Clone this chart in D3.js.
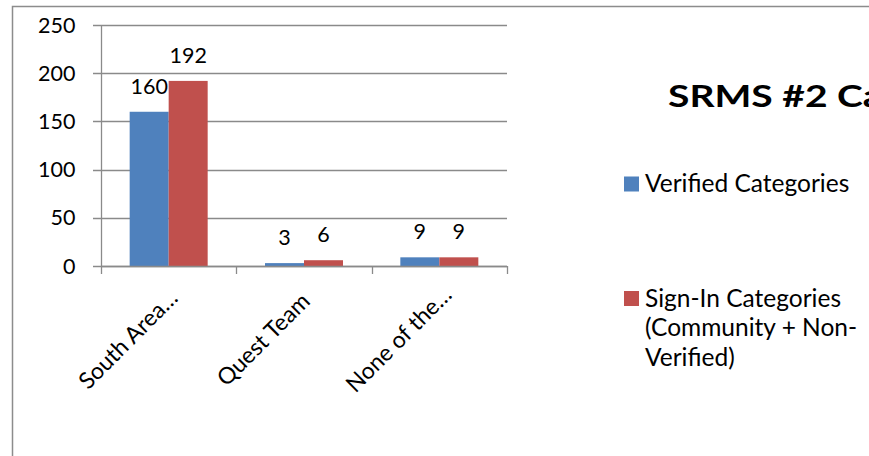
<!DOCTYPE html>
<html>
<head>
<meta charset="utf-8">
<script src="https://cdn.jsdelivr.net/npm/d3@7"></script>
<style>
  html, body { margin: 0; padding: 0; background: #fff; }
  svg { display: block; }
  text { font-family: Lato, "Open Sans", sans-serif; fill: #000; }
</style>
</head>
<body>
<svg id="chart" width="869" height="456"></svg>
<script>
const categories = ["South Area…", "Quest Team", "None of the…"];
const seriesNames = ["Verified Categories", "Sign-In Categories (Community + Non-Verified)"];
const legendLines = [["Verified Categories"], ["Sign-In Categories", "(Community + Non-", "Verified)"]];
const verified = [160, 3, 9];
const signIn = [192, 6, 9];
const yTicks = [0, 50, 100, 150, 200, 250];
const title = "SRMS #2 Categories";
const colors = ["#4F81BD", "#C0504D"];

const svg = d3.select("#chart");
const W = 869, H = 456;
svg.append("rect").attr("width", W).attr("height", H).attr("fill", "#fff");

// outer frame
svg.append("path").attr("d", `M12.5,${H} V6.5 H${W}`).attr("fill", "none")
  .attr("stroke", "#8c8c8c").attr("stroke-width", 1.5);

const plot = { left: 101, right: 507, top: 25, bottom: 266 };
const y = d3.scaleLinear().domain([0, 250]).range([plot.bottom, plot.top]);
const x0 = d3.scaleBand().domain(categories).range([plot.left, plot.right]).padding(0);
const x1 = d3.scaleBand().domain([0, 1]).range([0, x0.bandwidth()]).paddingInner(0).paddingOuter(0.735);

const grid = "#8a8a8a";
const g = svg.append("g");
g.selectAll("line.grid").data(yTicks).join("line")
  .attr("x1", plot.left - 8).attr("x2", plot.right)
  .attr("y1", d => Math.round(y(d)) + 0.5).attr("y2", d => Math.round(y(d)) + 0.5)
  .attr("stroke", grid).attr("stroke-width", 1.3);
g.append("line").attr("x1", plot.left + 0.5).attr("x2", plot.left + 0.5)
  .attr("y1", y(250)).attr("y2", y(0)).attr("stroke", grid).attr("stroke-width", 1.3);
g.selectAll("text.ylab").data(yTicks).join("text")
  .attr("x", 75.5).attr("y", d => y(d) + 7.5)
  .attr("text-anchor", "end").attr("font-size", 21.5).text(d => d);

// bars
const series = [verified, signIn];
const bars = svg.append("g");
categories.forEach((c, i) => {
  series.forEach((s, j) => {
    bars.append("rect")
      .attr("x", x0(c) + x1(j)).attr("width", x1.bandwidth())
      .attr("y", y(s[i])).attr("height", y(0) - y(s[i]))
      .attr("fill", colors[j]);
    bars.append("text")
      .attr("x", x0(c) + x1(j) + x1.bandwidth() / 2)
      .attr("y", y(s[i]) - 18)
      .attr("text-anchor", "middle").attr("font-size", 21.5).text(s[i]);
  });
});

// x axis ticks
const xt = [...categories.map(c => x0(c)), plot.right];
svg.selectAll("line.xt").data(xt).join("line")
  .attr("x1", d => Math.round(d) + 0.5).attr("x2", d => Math.round(d) + 0.5)
  .attr("y1", y(0)).attr("y2", y(0) + 8).attr("stroke", grid).attr("stroke-width", 1.3);
svg.append("line").attr("x1", plot.left).attr("x2", plot.right)
  .attr("y1", Math.round(y(0)) + 0.5).attr("y2", Math.round(y(0)) + 0.5)
  .attr("stroke", grid).attr("stroke-width", 1.3);

// category labels
svg.selectAll("text.cat").data(categories).join("text")
  .attr("transform", c => `translate(${x0(c) + x0.bandwidth() / 2 - 35},${y(0) + 79}) rotate(-45)`)
  .attr("text-anchor", "middle").attr("font-size", 23).text(c => c);

// title (cut by the right edge, as in the reference)
const clip = svg.append("clipPath").attr("id", "clipAll");
clip.append("rect").attr("width", W).attr("height", H);
svg.append("g").attr("clip-path", "url(#clipAll)")
  .append("text")
  .attr("transform", "translate(668,106.5) scale(1.28,1)")
  .attr("font-size", 30.5).attr("font-weight", "bold").text(title);

// legend
const legY = [192, 306.5];
const leg = svg.append("g");
legendLines.forEach((lines, j) => {
  leg.append("rect").attr("x", 624).attr("y", legY[j] - 15.5).attr("width", 15).attr("height", 15)
    .attr("fill", colors[j]);
  lines.forEach((ln, k) => {
    leg.append("text").attr("x", 645).attr("y", legY[j] + k * 29.5)
      .attr("font-size", 24.5).text(ln);
  });
});
</script>
</body>
</html>
